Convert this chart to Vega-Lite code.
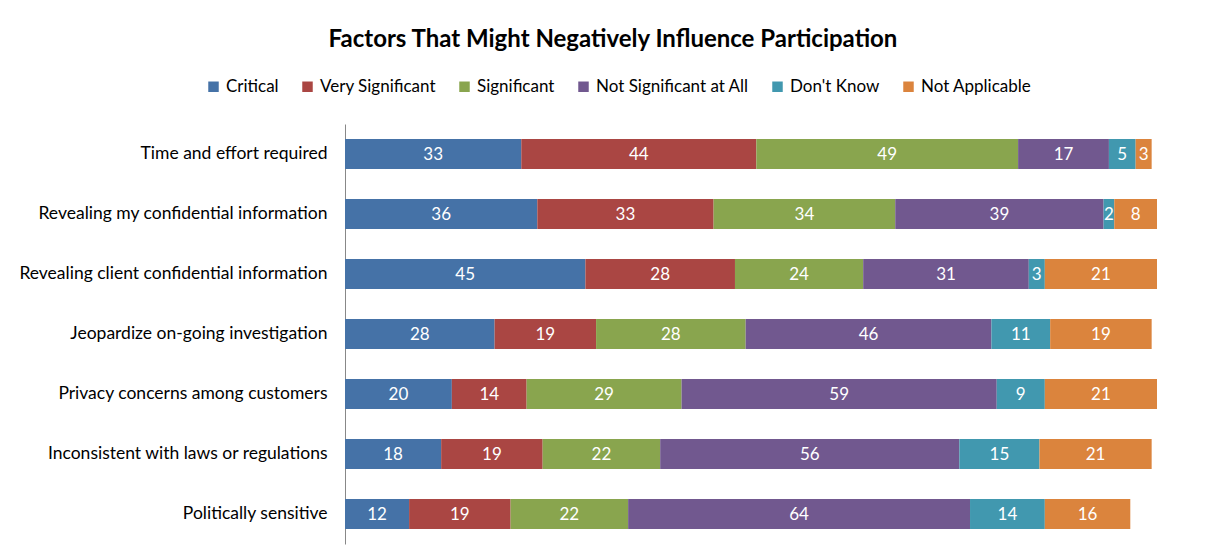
{
  "$schema": "https://vega.github.io/schema/vega-lite/v6.json",
  "width": 812,
  "height": 420,
  "autosize": {"type": "none"},
  "padding": {"left": 345, "top": 124, "right": 53, "bottom": 12},
  "background": "white",
  "title": {"text": "Factors That Might Negatively Influence Participation", "font": "Lato", "fontSize": 24, "fontWeight": "bold", "color": "#000000", "anchor": "middle", "dx": -138, "offset": 26},
  "config": {"view": {"stroke": null}},
  "data": {"values": [
    {"factor": "Time and effort required", "rating": "Critical", "count": 33},
    {"factor": "Time and effort required", "rating": "Very Significant", "count": 44},
    {"factor": "Time and effort required", "rating": "Significant", "count": 49},
    {"factor": "Time and effort required", "rating": "Not Significant at All", "count": 17},
    {"factor": "Time and effort required", "rating": "Don't Know", "count": 5},
    {"factor": "Time and effort required", "rating": "Not Applicable", "count": 3},
    {"factor": "Revealing my confidential information", "rating": "Critical", "count": 36},
    {"factor": "Revealing my confidential information", "rating": "Very Significant", "count": 33},
    {"factor": "Revealing my confidential information", "rating": "Significant", "count": 34},
    {"factor": "Revealing my confidential information", "rating": "Not Significant at All", "count": 39},
    {"factor": "Revealing my confidential information", "rating": "Don't Know", "count": 2},
    {"factor": "Revealing my confidential information", "rating": "Not Applicable", "count": 8},
    {"factor": "Revealing client confidential information", "rating": "Critical", "count": 45},
    {"factor": "Revealing client confidential information", "rating": "Very Significant", "count": 28},
    {"factor": "Revealing client confidential information", "rating": "Significant", "count": 24},
    {"factor": "Revealing client confidential information", "rating": "Not Significant at All", "count": 31},
    {"factor": "Revealing client confidential information", "rating": "Don't Know", "count": 3},
    {"factor": "Revealing client confidential information", "rating": "Not Applicable", "count": 21},
    {"factor": "Jeopardize on-going investigation", "rating": "Critical", "count": 28},
    {"factor": "Jeopardize on-going investigation", "rating": "Very Significant", "count": 19},
    {"factor": "Jeopardize on-going investigation", "rating": "Significant", "count": 28},
    {"factor": "Jeopardize on-going investigation", "rating": "Not Significant at All", "count": 46},
    {"factor": "Jeopardize on-going investigation", "rating": "Don't Know", "count": 11},
    {"factor": "Jeopardize on-going investigation", "rating": "Not Applicable", "count": 19},
    {"factor": "Privacy concerns among customers\u00a0\u00a0", "rating": "Critical", "count": 20},
    {"factor": "Privacy concerns among customers\u00a0\u00a0", "rating": "Very Significant", "count": 14},
    {"factor": "Privacy concerns among customers\u00a0\u00a0", "rating": "Significant", "count": 29},
    {"factor": "Privacy concerns among customers\u00a0\u00a0", "rating": "Not Significant at All", "count": 59},
    {"factor": "Privacy concerns among customers\u00a0\u00a0", "rating": "Don't Know", "count": 9},
    {"factor": "Privacy concerns among customers\u00a0\u00a0", "rating": "Not Applicable", "count": 21},
    {"factor": "Inconsistent with laws or regulations", "rating": "Critical", "count": 18},
    {"factor": "Inconsistent with laws or regulations", "rating": "Very Significant", "count": 19},
    {"factor": "Inconsistent with laws or regulations", "rating": "Significant", "count": 22},
    {"factor": "Inconsistent with laws or regulations", "rating": "Not Significant at All", "count": 56},
    {"factor": "Inconsistent with laws or regulations", "rating": "Don't Know", "count": 15},
    {"factor": "Inconsistent with laws or regulations", "rating": "Not Applicable", "count": 21},
    {"factor": "Politically sensitive", "rating": "Critical", "count": 12},
    {"factor": "Politically sensitive", "rating": "Very Significant", "count": 19},
    {"factor": "Politically sensitive", "rating": "Significant", "count": 22},
    {"factor": "Politically sensitive", "rating": "Not Significant at All", "count": 64},
    {"factor": "Politically sensitive", "rating": "Don't Know", "count": 14},
    {"factor": "Politically sensitive", "rating": "Not Applicable", "count": 16}
  ]},
  "transform": [
    {"calculate": "indexof(['Critical','Very Significant','Significant','Not Significant at All','Don\\'t Know','Not Applicable'], datum.rating)", "as": "ridx"},
    {"stack": "count", "groupby": ["factor"], "sort": [{"field": "ridx", "order": "ascending"}], "as": ["x0", "x1"]},
    {"calculate": "(datum.x0 + datum.x1) / 2", "as": "xmid"}
  ],
  "encoding": {
    "y": {"field": "factor", "type": "nominal", "sort": null,
      "scale": {"paddingInner": 0.5, "paddingOuter": 0.25},
      "axis": {"title": null, "labelFont": "Lato", "labelFontSize": 17.5, "labelColor": "#000000", "labelPadding": 18, "ticks": false, "domainColor": "#888888", "labelLimit": 400}}
  },
  "layer": [
    {
      "mark": {"type": "bar"},
      "encoding": {
        "x": {"field": "x0", "type": "quantitative", "scale": {"domain": [0, 152], "nice": false, "zero": true}, "axis": null},
        "x2": {"field": "x1"},
        "color": {"field": "rating", "type": "nominal",
          "scale": {"domain": ["Critical", "Very Significant", "Significant", "Not Significant at All", "Don't Know", "Not Applicable"],
                    "range": ["#4572A7", "#AA4643", "#89A54E", "#71588F", "#4198AF", "#DB843D"]},
          "legend": {"title": null, "orient": "none", "direction": "horizontal", "legendX": -140, "legendY": -46,
                     "symbolType": "square", "symbolSize": 110, "symbolStrokeWidth": 0, "labelFont": "Lato", "labelFontSize": 17, "labelColor": "#000000", "columnPadding": 20, "labelOffset": 4}}
      }
    },
    {
      "mark": {"type": "text", "color": "white", "font": "Lato", "fontSize": 17, "baseline": "middle", "align": "center", "dy": 1},
      "encoding": {
        "x": {"field": "xmid", "type": "quantitative"},
        "text": {"field": "count", "type": "quantitative"}
      }
    }
  ]
}
